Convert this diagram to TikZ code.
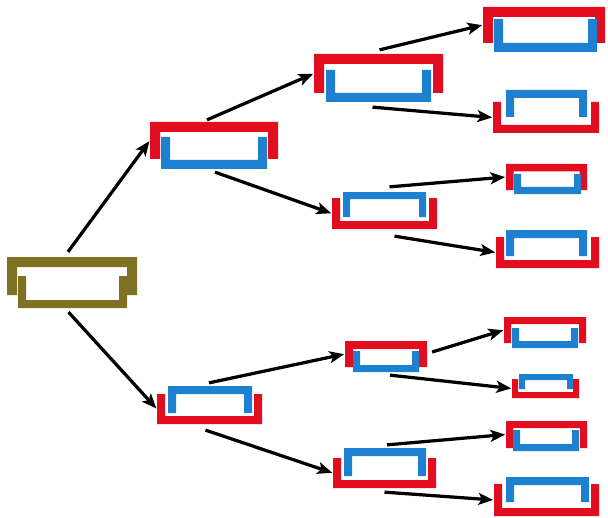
\documentclass[tikz,border=0pt]{standalone}
\usetikzlibrary{arrows.meta,calc,fit}

\definecolor{brRed}{HTML}{E20D1E}
\definecolor{brBlue}{HTML}{1D80D0}
\definecolor{brOlive}{HTML}{7E7222}

% bracket opening downwards: name, colour, left, right, top, bottom, thickness
\newcommand\brkcap[7]{%
  \fill[#2] (#3,#5) -- (#4,#5) -- (#4,#6) -- ({#4-#7},#6) -- ({#4-#7},{#5+#7})
    -- ({#3+#7},{#5+#7}) -- ({#3+#7},#6) -- (#3,#6) -- cycle;
  \node[fit={(#3,#5) (#4,#6)}, inner sep=0pt] (#1) {};}

% bracket opening upwards: name, colour, left, right, top, bottom, thickness
\newcommand\brkcup[7]{%
  \fill[#2] (#3,#5) -- (#3,#6) -- (#4,#6) -- (#4,#5) -- ({#4-#7},#5)
    -- ({#4-#7},{#6-#7}) -- ({#3+#7},{#6-#7}) -- ({#3+#7},#5) -- cycle;
  \node[fit={(#3,#5) (#4,#6)}, inner sep=0pt] (#1) {};}

\begin{document}
\begin{tikzpicture}[x=0.05cm, y=-0.05cm,
  arr/.style={line width=4.6pt, -{Stealth[length=21pt, width=17pt, inset=5pt]}, shorten >=1pt}]
\useasboundingbox (0,0) rectangle (608,518);

% root
\brkcap{root}{brOlive}{7}{137}{257}{295}{10}
\brkcup{rooti}{brOlive}{18}{127}{276}{308}{8}

% upper branch
\brkcap{n1}{brRed}{150}{278}{122}{159}{10}
\brkcup{n1i}{brBlue}{161}{267}{137}{169}{9}

\brkcap{n11}{brRed}{314}{443}{54}{93}{10}
\brkcup{n11i}{brBlue}{326}{431}{70}{102}{9}

\brkcap{n111}{brRed}{483}{605}{7}{43}{10}
\brkcup{n111i}{brBlue}{494}{597}{19}{52}{9}

\brkcap{n112i}{brBlue}{506}{587}{90}{117}{8}
\brkcup{n112}{brRed}{493}{599}{102}{133}{8}

\brkcap{n12i}{brBlue}{343}{426}{192}{217}{7}
\brkcup{n12}{brRed}{332}{437}{198}{229}{8}

\brkcap{n121}{brRed}{506}{587}{164}{190}{7.5}
\brkcup{n121i}{brBlue}{514}{581}{174}{194}{7}

\brkcap{n122i}{brBlue}{506}{587}{230}{256}{8}
\brkcup{n122}{brRed}{496}{599}{237}{268}{8}

% lower branch
\brkcap{n2i}{brBlue}{168}{252}{386}{413}{8}
\brkcup{n2}{brRed}{157}{262}{394}{424}{8}

\brkcap{n21}{brRed}{345}{427}{341}{367}{8}
\brkcup{n21i}{brBlue}{353}{419}{351}{372}{7}

\brkcap{n211}{brRed}{504}{586}{317}{343}{7}
\brkcup{n211i}{brBlue}{512}{578}{328}{348}{7}

\brkcap{n212i}{brBlue}{519}{573}{374}{389}{6}
\brkcup{n212}{brRed}{512}{579}{379}{398}{6}

\brkcap{n22i}{brBlue}{344}{426}{448}{476}{8}
\brkcup{n22}{brRed}{333}{436}{458}{488}{8}

\brkcap{n221}{brRed}{506}{587}{421}{448}{7}
\brkcup{n221i}{brBlue}{513}{579}{430}{451}{7}

\brkcap{n222i}{brBlue}{506}{589}{477}{502}{8}
\brkcup{n222}{brRed}{494}{599}{484}{516}{8}

% connectors
\draw[arr] ($(root.north)+(-4,-5)$) -- (n1.west);
\draw[arr] ($(rooti.south)+(-4,4)$) -- (n2.west);

\draw[arr] ($(n1.north)+(-7,-2)$) -- (n11.west);
\draw[arr] ($(n1i.south)+(1,3)$) -- (n12.west);

\draw[arr] ($(n11.north)+(1,-4)$) -- (n111.west);
\draw[arr] ($(n11i.south)+(-6,5)$) -- (n112.west);

\draw[arr] ($(n12i.north)+(5,-5)$) -- (n121.west);
\draw[arr] ($(n12.south)+(10,7)$) -- (n122.west);

\draw[arr] ($(n2i.north)+(-1,-3)$) -- (n21.west);
\draw[arr] ($(n2.south)+(-4,6)$) -- (n22.west);

\draw[arr] ($(n21.east)+(5,-2)$) -- (n211.west);
\draw[arr] ($(n21i.south)+(4,3)$) -- (n212.west);

\draw[arr] ($(n22i.north)+(2,-3)$) -- (n221.west);
\draw[arr] ($(n22.south)+(0,4)$) -- (n222.west);
\end{tikzpicture}
\end{document}
